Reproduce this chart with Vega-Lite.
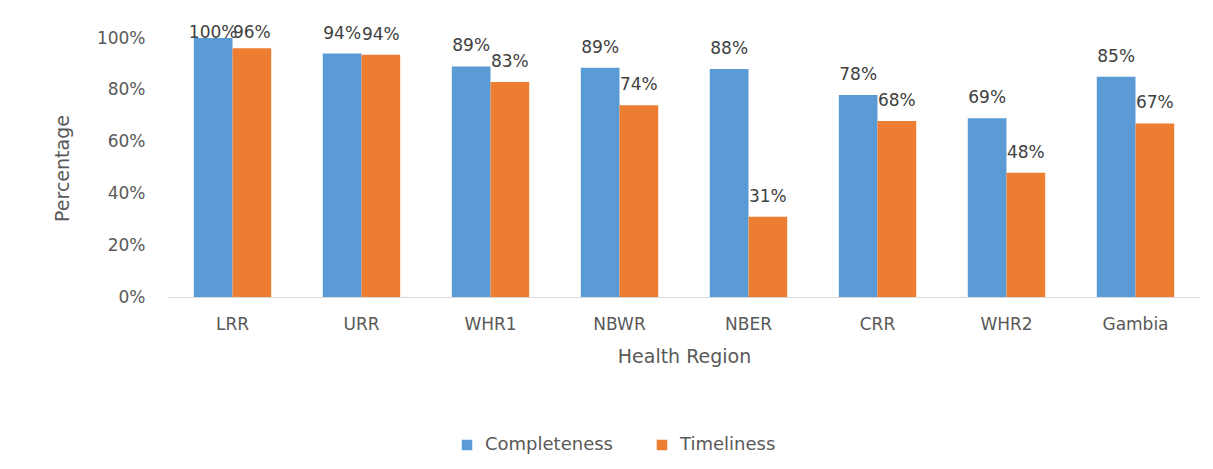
{
  "$schema": "https://vega.github.io/schema/vega-lite/v6.json",
  "autosize": {"type": "none"},
  "width": 1032,
  "height": 259,
  "padding": {"left": 168, "top": 38, "right": 13, "bottom": 172},
  "background": "white",
  "config": {
    "view": {"stroke": null},
    "font": "DejaVu Sans"
  },
  "data": {
    "values": [
      {"region": "LRR", "series": "Completeness", "value": 1.00},
      {"region": "LRR", "series": "Timeliness", "value": 0.96},
      {"region": "URR", "series": "Completeness", "value": 0.94},
      {"region": "URR", "series": "Timeliness", "value": 0.935},
      {"region": "WHR1", "series": "Completeness", "value": 0.89},
      {"region": "WHR1", "series": "Timeliness", "value": 0.83},
      {"region": "NBWR", "series": "Completeness", "value": 0.885},
      {"region": "NBWR", "series": "Timeliness", "value": 0.74},
      {"region": "NBER", "series": "Completeness", "value": 0.88},
      {"region": "NBER", "series": "Timeliness", "value": 0.31},
      {"region": "CRR", "series": "Completeness", "value": 0.78},
      {"region": "CRR", "series": "Timeliness", "value": 0.68},
      {"region": "WHR2", "series": "Completeness", "value": 0.69},
      {"region": "WHR2", "series": "Timeliness", "value": 0.48},
      {"region": "Gambia", "series": "Completeness", "value": 0.85},
      {"region": "Gambia", "series": "Timeliness", "value": 0.67}
    ]
  },
  "encoding": {
    "x": {
      "field": "region", "type": "nominal", "sort": null,
      "scale": {"paddingInner": 0.4, "paddingOuter": 0.2},
      "axis": {
        "title": "Health Region", "labelAngle": 0, "ticks": false, "domain": true,
        "domainColor": "#d9d9d9", "labelColor": "#595959", "labelFontSize": 17,
        "labelPadding": 19, "titleColor": "#595959", "titleFontSize": 19,
        "titleFontWeight": "normal", "titleY": 59, "titleBaseline": "middle"
      }
    },
    "xOffset": {"field": "series", "type": "nominal"}
  },
  "layer": [
    {
      "mark": {"type": "bar"},
      "encoding": {
        "y": {
          "field": "value", "type": "quantitative",
          "scale": {"domain": [0, 1], "nice": false},
          "axis": {
            "title": "Percentage", "format": ".0%", "values": [0, 0.2, 0.4, 0.6, 0.8, 1],
            "grid": false, "ticks": false, "domain": false, "labelColor": "#595959",
            "labelFontSize": 17, "labelPadding": 23, "titleColor": "#595959",
            "titleFontSize": 19, "titleFontWeight": "normal", "titleX": -106,
            "titleY": 130, "titleBaseline": "middle", "titleAngle": -90
          }
        },
        "color": {
          "field": "series", "type": "nominal",
          "scale": {"domain": ["Completeness", "Timeliness"], "range": ["#5B9BD5", "#ED7D31"]},
          "legend": {
            "title": null, "orient": "none", "direction": "horizontal",
            "legendX": 290, "legendY": 398, "symbolType": "square", "symbolSize": 110,
            "labelFontSize": 18, "labelColor": "#595959", "columnPadding": 40,
            "labelOffset": 9, "symbolStrokeWidth": 0
          }
        }
      }
    },
    {
      "mark": {"type": "text", "baseline": "alphabetic", "fontSize": 17, "color": "#404040"},
      "encoding": {
        "y": {
          "field": "value", "type": "quantitative",
          "scale": {"domain": [-0.058, 0.942], "nice": false, "zero": false, "clamp": true},
          "axis": null
        },
        "text": {"field": "value", "type": "quantitative", "format": ".0%"}
      }
    }
  ],
  "resolve": {"scale": {"y": "independent"}}
}
